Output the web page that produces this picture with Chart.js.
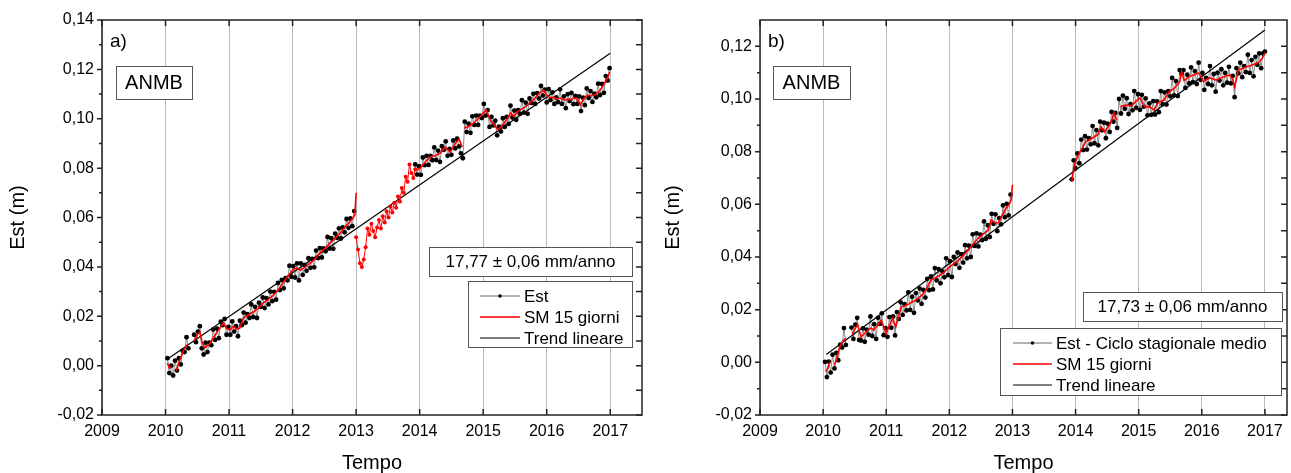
<!DOCTYPE html>
<html>
<head>
<meta charset="utf-8">
<script src="https://cdn.jsdelivr.net/npm/chart.js@4.4.1/dist/chart.umd.min.js"></script>
<style>
  html, body { margin: 0; padding: 0; background: #fff; overflow: hidden; }
  #wrap { position: relative; width: 1291px; height: 473px; overflow: hidden; }
  canvas { position: absolute; top: 0; }
</style>
</head>
<body>
<div id="wrap">
  <canvas id="chartA" width="660" height="473" style="left:0"></canvas>
  <canvas id="chartB" width="636" height="473" style="left:655px"></canvas>
</div>
<script>
// tick labels
const yearTicks = [2009, 2010, 2011, 2012, 2013, 2014, 2015, 2016, 2017];
const aYTicks = [-0.02, 0, 0.02, 0.04, 0.06, 0.08, 0.10, 0.12, 0.14];
const bYTicks = [-0.02, 0, 0.02, 0.04, 0.06, 0.08, 0.10, 0.12];

// daily "Est" positions, sampled every 0.03 yr, one list per segment
const estStep = 0.03;
const aEstStart = [2010.03, 2010.45, 2013.93];
const aEst1 = [0.0030, -0.0030, 0.0000, -0.0040, 0.0020, -0.0020, 0.0030, 0.0005, 0.0060, 0.0055, 0.0115, 0.0070];
const aEst2 = [
  0.0125, 0.0095, 0.0138, 0.0160, 0.0070, 0.0045, 0.0093, 0.0055, 0.0093, 0.0083,
  0.0146, 0.0104, 0.0150, 0.0111, 0.0178, 0.0164, 0.0189, 0.0125, 0.0157, 0.0125,
  0.0179, 0.0138, 0.0160, 0.0119, 0.0182, 0.0164, 0.0215, 0.0174, 0.0209, 0.0193,
  0.0248, 0.0197, 0.0238, 0.0193, 0.0255, 0.0238, 0.0276, 0.0233, 0.0273, 0.0248,
  0.0300, 0.0261, 0.0299, 0.0267, 0.0335, 0.0306, 0.0347, 0.0313, 0.0354, 0.0345,
  0.0405, 0.0360, 0.0403, 0.0357, 0.0414, 0.0345, 0.0414, 0.0368, 0.0408, 0.0384,
  0.0435, 0.0396, 0.0432, 0.0398, 0.0466, 0.0436, 0.0476, 0.0438, 0.0475, 0.0463,
  0.0521, 0.0474, 0.0516, 0.0473, 0.0535, 0.0518, 0.0556, 0.0515, 0.0560, 0.0540,
  0.0594, 0.0558, 0.0596, 0.0565, 0.0626];
const aEst3 = [
  0.0815, 0.0774, 0.0808, 0.0773, 0.0843, 0.0812, 0.0850, 0.0813, 0.0850, 0.0832,
  0.0884, 0.0833, 0.0871, 0.0825, 0.0889, 0.0874, 0.0908, 0.0850, 0.0878, 0.0854,
  0.0912, 0.0880, 0.0919, 0.0888, 0.0860, 0.0840, 0.0988, 0.0946, 0.0980, 0.0943,
  0.1010, 0.0975, 0.1013, 0.0975, 0.1013, 0.1003, 0.1060, 0.1013, 0.1035, 0.0967,
  0.1008, 0.0973, 0.0992, 0.0933, 0.0968, 0.0948, 0.1002, 0.0967, 0.1007, 0.0979,
  0.1053, 0.1005, 0.1033, 0.0996, 0.1035, 0.1020, 0.1075, 0.1025, 0.1065, 0.1020,
  0.1082, 0.1064, 0.1101, 0.1060, 0.1104, 0.1082, 0.1133, 0.1094, 0.1118, 0.1066,
  0.1120, 0.1076, 0.1107, 0.1060, 0.1086, 0.1067, 0.1119, 0.1060, 0.1091, 0.1043,
  0.1100, 0.1072, 0.1105, 0.1059, 0.1093, 0.1060, 0.1091, 0.1031, 0.1085, 0.1055,
  0.1123, 0.1084, 0.1112, 0.1068, 0.1102, 0.1087, 0.1142, 0.1096, 0.1141, 0.1105,
  0.1173, 0.1155, 0.1205];

// 2013 stretch of panel a, only red points
const aRawStart = 2013.00;
const aRaw = [
  0.0520, 0.0470, 0.0415, 0.0400, 0.0430, 0.0480, 0.0555, 0.0530, 0.0575, 0.0545,
  0.0520, 0.0560, 0.0590, 0.0555, 0.0605, 0.0580, 0.0625, 0.0600, 0.0645, 0.0620,
  0.0660, 0.0640, 0.0685, 0.0665, 0.0720, 0.0700, 0.0765, 0.0745, 0.0815, 0.0780,
  0.0760, 0.0795];

// 15-day moving average (null = gap)
const aSmT = [2010.03, 2010.06, 2010.10, 2010.14, 2010.17, 2010.22, 2010.28, 2010.34, 2010.40, 2010.45,
  2010.50, 2010.54, 2010.58, 2010.62, 2010.70, 2010.78, 2010.85, 2010.91, 2010.96,
  2011.02, 2011.07, 2011.12, 2011.17, 2011.23, 2011.30, 2011.38, 2011.46, 2011.54, 2011.62, 2011.70,
  2011.77, 2011.83, 2011.92,
  2012.00, 2012.06, 2012.12, 2012.20, 2012.28, 2012.35, 2012.43, 2012.51, 2012.59, 2012.67, 2012.75,
  2012.82, 2012.88, 2012.94, 2012.98,
  2013.00, 2013.50, 2013.93,
  2014.01, 2014.09, 2014.17, 2014.24, 2014.32, 2014.40, 2014.48, 2014.56, 2014.62, 2014.67, 2014.69,
  2014.70, 2014.75, 2014.82, 2014.90, 2014.96,
  2015.00, 2015.05, 2015.11, 2015.17, 2015.24, 2015.32, 2015.38, 2015.43, 2015.48, 2015.55, 2015.63,
  2015.70, 2015.79, 2015.87, 2015.95,
  2016.00, 2016.05, 2016.10, 2016.16, 2016.21, 2016.28, 2016.33, 2016.37, 2016.43, 2016.48, 2016.53,
  2016.58, 2016.64, 2016.70, 2016.74, 2016.80, 2016.84, 2016.88, 2016.92, 2016.96, 2016.99];
const aSm = [0.0010, -0.0010, -0.0005, null, -0.0020, 0.0020, 0.0060, 0.0085, null, 0.0100,
  0.0125, 0.0135, 0.0090, 0.0072, 0.0090, 0.0124, 0.0150, 0.0173, 0.0150,
  0.0145, 0.0160, 0.0148, 0.0152, 0.0195, 0.0205, 0.0217, 0.0232, 0.0254, 0.0268, 0.0286,
  0.0305, 0.0327, 0.0360,
  0.0387, 0.0395, 0.0387, 0.0400, 0.0416, 0.0430, 0.0456, 0.0475, 0.0497, 0.0515, 0.0537,
  0.0560, 0.0578, 0.0595, 0.0610,
  0.0700, null, 0.0790,
  0.0800, 0.0825, 0.0845, 0.0850, 0.0860, 0.0885, 0.0865, 0.0900, 0.0918, 0.0885, null,
  0.0962, 0.0967, 0.0975, 0.0995, 0.1010,
  0.1023, 0.1035, 0.0995, 0.0975, 0.0955, 0.0980, 0.1000, 0.1023, 0.1010, 0.1030, 0.1043,
  0.1055, 0.1076, 0.1100, 0.1116,
  0.1096, 0.1085, 0.1088, 0.1080, 0.1084, 0.1075, 0.1080, 0.1076, 0.1085, 0.1080, 0.1056,
  0.1080, 0.1096, 0.1092, 0.1095, 0.1105, 0.1116, 0.1130, 0.1149, 0.1165, 0.1190];

const aTrendT = [2010.05, 2017.00];
const aTrend = [0.0030, 0.1265];

// panel b: Est minus mean seasonal cycle
const bEstStart = [2010.03, 2010.45, 2013.94];
const bEst1 = [0.0002, -0.0056, 0.0003, -0.0039, 0.0029, -0.0023, 0.0036, 0.0008, 0.0067, 0.0056, 0.0130, 0.0066];
const bEst2 = [
  0.0132, 0.0089, 0.0143, 0.0169, 0.0085, 0.0083, 0.0129, 0.0078, 0.0124, 0.0105,
  0.0174, 0.0100, 0.0145, 0.0089, 0.0169, 0.0146, 0.0186, 0.0103, 0.0130, 0.0097,
  0.0172, 0.0131, 0.0174, 0.0102, 0.0191, 0.0165, 0.0228, 0.0180, 0.0221, 0.0197,
  0.0266, 0.0199, 0.0249, 0.0188, 0.0263, 0.0235, 0.0280, 0.0222, 0.0275, 0.0246,
  0.0317, 0.0274, 0.0326, 0.0277, 0.0358, 0.0311, 0.0354, 0.0300, 0.0345, 0.0323,
  0.0395, 0.0331, 0.0384, 0.0324, 0.0400, 0.0373, 0.0417, 0.0359, 0.0411, 0.0379,
  0.0445, 0.0395, 0.0443, 0.0400, 0.0486, 0.0442, 0.0490, 0.0440, 0.0485, 0.0464,
  0.0535, 0.0469, 0.0521, 0.0476, 0.0564, 0.0526, 0.0562, 0.0498, 0.0548, 0.0524,
  0.0596, 0.0551, 0.0602, 0.0558, 0.0637];
const bEst3 = [
  0.0695, 0.0767, 0.0737, 0.0793, 0.0756, 0.0846, 0.0806, 0.0859, 0.0808, 0.0851,
  0.0828, 0.0897, 0.0832, 0.0882, 0.0824, 0.0914, 0.0881, 0.0910, 0.0851, 0.0906,
  0.0875, 0.0951, 0.0914, 0.0947, 0.0890, 0.1000, 0.0945, 0.1013, 0.0963, 0.1003,
  0.0943, 0.0980, 0.0957, 0.1030, 0.0966, 0.1018, 0.0959, 0.1016, 0.0971, 0.1002,
  0.0938, 0.0983, 0.0940, 0.0992, 0.0941, 0.0991, 0.0950, 0.1030, 0.0980, 0.1025,
  0.0979, 0.1030, 0.1010, 0.1080, 0.1014, 0.1068, 0.1011, 0.1110, 0.1096, 0.1110,
  0.1042, 0.1092, 0.1059, 0.1120, 0.1064, 0.1106, 0.1057, 0.1138, 0.1073, 0.1099,
  0.1035, 0.1080, 0.1057, 0.1125, 0.1052, 0.1095, 0.1028, 0.1100, 0.1070, 0.1113,
  0.1052, 0.1099, 0.1062, 0.1122, 0.1059, 0.1088, 0.1007, 0.1117, 0.1097, 0.1138,
  0.1083, 0.1125, 0.1102, 0.1168, 0.1099, 0.1148, 0.1086, 0.1160, 0.1130, 0.1173,
  0.1117, 0.1173, 0.1180];

const bSmT = [2010.04, 2010.07, 2010.10, 2010.12, 2010.15, 2010.18, 2010.21, 2010.25, 2010.29, 2010.33,
  2010.36, 2010.41, 2010.46, 2010.51, 2010.55, 2010.60, 2010.64, 2010.68, 2010.72, 2010.76,
  2010.80, 2010.86, 2010.92, 2010.96,
  2011.00, 2011.05, 2011.10, 2011.15, 2011.19, 2011.24, 2011.30, 2011.36, 2011.41, 2011.49,
  2011.57, 2011.63, 2011.68, 2011.71, 2011.76, 2011.81, 2011.86, 2011.93,
  2012.00, 2012.08, 2012.15, 2012.22, 2012.30, 2012.38, 2012.46, 2012.54, 2012.62, 2012.66,
  2012.72, 2012.78, 2012.84, 2012.90, 2012.95, 2012.98,
  2013.00, 2013.50, 2013.94, 2013.98,
  2014.02, 2014.06, 2014.11, 2014.16, 2014.22, 2014.27, 2014.31, 2014.35, 2014.40, 2014.46,
  2014.50, 2014.54, 2014.58, 2014.61, 2014.65, 2014.68, 2014.71, 2014.76, 2014.82, 2014.88, 2014.95,
  2015.02, 2015.06, 2015.10, 2015.18, 2015.24, 2015.28, 2015.32, 2015.40, 2015.48, 2015.57,
  2015.65, 2015.68, 2015.72, 2015.80, 2015.87, 2015.95,
  2016.03, 2016.08, 2016.13, 2016.23, 2016.34, 2016.44, 2016.49, 2016.52, 2016.58, 2016.64,
  2016.70, 2016.76, 2016.81, 2016.86, 2016.91, 2016.96, 2017.00];
const bSm = [-0.0035, -0.0025, -0.0002, 0.0000, null, -0.0010, 0.0009, 0.0050, 0.0073, 0.0085,
  0.0092, null, 0.0105, 0.0130, 0.0142, 0.0096, 0.0105, 0.0115, 0.0125, 0.0130,
  0.0122, 0.0140, 0.0160, 0.0135,
  0.0111, 0.0140, 0.0168, 0.0134, 0.0170, 0.0210, 0.0215, 0.0222, 0.0229, 0.0240,
  0.0256, 0.0275, 0.0300, 0.0313, 0.0318, 0.0325, 0.0332, 0.0345,
  0.0362, 0.0376, 0.0389, 0.0405, 0.0427, 0.0450, 0.0472, 0.0488, 0.0503, 0.0540,
  0.0530, 0.0530, 0.0560, 0.0586, 0.0600, 0.0617,
  0.0674, null, 0.0685, 0.0750,
  0.0775, 0.0795, 0.0815, 0.0837, 0.0845, 0.0852, 0.0860, 0.0863, 0.0894, 0.0875,
  0.0890, 0.0901, 0.0925, 0.0947, 0.0920, null, 0.0970, 0.0975, 0.0977, 0.0972, 0.0990,
  0.1004, 0.0985, 0.0970, 0.0970, 0.0958, 0.0975, 0.0989, 0.0995, 0.1027, 0.1042,
  0.1065, 0.1103, 0.1070, 0.1085, 0.1091, 0.1099,
  0.1065, 0.1075, 0.1080, 0.1072, 0.1084, 0.1091, 0.1075, 0.1046, 0.1110, 0.1115,
  0.1122, 0.1125, 0.1130, 0.1135, 0.1141, 0.1155, 0.1175];

const bTrendT = [2010.05, 2017.00];
const bTrend = [0.0030, 0.1262];

const FONT = '"Liberation Sans", Arial, sans-serif';

function regular(t0, vals) {
  return vals.map((v, i) => ({ x: Math.round((t0 + i * estStep) * 1000) / 1000, y: v }));
}
function joinSegs(segs) {
  const out = [];
  segs.forEach((s, k) => {
    if (k) out.push({ x: (out[out.length - 1].x + s[0].x) / 2, y: null });
    out.push(...s);
  });
  return out;
}
function pairs(ts, vs) {
  return ts.map((t, i) => ({ x: t, y: vs[i] }));
}
function fmt(v) {
  if (Math.abs(v) < 1e-9) v = 0;
  return v.toFixed(2).replace('.', ',');
}

function line(ctx, x0, y0, x1, y1) {
  ctx.moveTo(x0, y0);
  ctx.lineTo(x1, y1);
}

function textBox(ctx, b, text, size) {
  ctx.fillStyle = '#fff';
  ctx.fillRect(b[0], b[1], b[2], b[3]);
  ctx.strokeStyle = '#555';
  ctx.lineWidth = 1;
  ctx.strokeRect(b[0] + 0.5, b[1] + 0.5, b[2], b[3]);
  ctx.fillStyle = '#000';
  ctx.font = size + 'px ' + FONT;
  ctx.textAlign = 'center';
  ctx.textBaseline = 'middle';
  ctx.fillText(text, b[0] + b[2] / 2, b[1] + b[3] / 2 + 1);
}

const framePlugin = {
  id: 'frame',
  afterDatasetsDraw(chart, args, o) {
    const { ctx, chartArea: a, scales: { x, y } } = chart;
    ctx.save();
    ctx.strokeStyle = '#222';
    ctx.lineWidth = 1.5;
    ctx.strokeRect(a.left, a.top, a.right - a.left, a.bottom - a.top);

    ctx.beginPath();
    x.ticks.forEach(t => {
      const px = x.getPixelForValue(t.value);
      line(ctx, px, a.bottom, px, a.bottom - 6);
      line(ctx, px, a.top, px, a.top + 6);
    });
    const major = y.ticks.map(t => t.value);
    const minor = [];
    for (let i = 0; i < major.length; i++) {
      const m = major[i] + 0.01;
      if (m < y.max - 1e-9) minor.push(m);
    }
    major.forEach(v => {
      const py = y.getPixelForValue(v);
      line(ctx, a.left, py, a.left - 5, py);
      line(ctx, a.right, py, a.right - 6, py);
    });
    minor.forEach(v => {
      const py = y.getPixelForValue(v);
      line(ctx, a.left, py, a.left - 3, py);
      line(ctx, a.right, py, a.right - 6, py);
    });
    ctx.stroke();

    // panel letter
    ctx.fillStyle = '#000';
    ctx.font = '19px ' + FONT;
    ctx.textAlign = 'left';
    ctx.textBaseline = 'middle';
    ctx.fillText(o.letter, o.letterPos[0], o.letterPos[1]);

    textBox(ctx, o.stationBox, 'ANMB', 20);
    textBox(ctx, o.rateBox, o.rate, 17);

    // legend
    const lb = o.legendBox;
    ctx.fillStyle = '#fff';
    ctx.fillRect(lb[0], lb[1], lb[2], lb[3]);
    ctx.strokeStyle = '#555';
    ctx.lineWidth = 1;
    ctx.strokeRect(lb[0] + 0.5, lb[1] + 0.5, lb[2], lb[3]);
    const [s0, s1, tx] = o.legendX;
    const ys = o.legendY;
    ctx.lineWidth = 1;
    ctx.strokeStyle = '#666';
    ctx.beginPath(); line(ctx, s0, ys[0], s1, ys[0]); ctx.stroke();
    ctx.fillStyle = '#000';
    ctx.beginPath(); ctx.arc((s0 + s1) / 2, ys[0], 1.8, 0, Math.PI * 2); ctx.fill();
    ctx.strokeStyle = '#ff0000'; ctx.lineWidth = 1.4;
    ctx.beginPath(); line(ctx, s0, ys[1], s1, ys[1]); ctx.stroke();
    ctx.strokeStyle = '#000'; ctx.lineWidth = 1.2;
    ctx.beginPath(); line(ctx, s0, ys[2], s1, ys[2]); ctx.stroke();
    ctx.fillStyle = '#000';
    ctx.font = '17px ' + FONT;
    ctx.textAlign = 'left';
    ctx.textBaseline = 'middle';
    o.legendText.forEach((t, i) => ctx.fillText(t, tx, ys[i] + 1));
    ctx.restore();
  }
};

function makeChart(id, p) {
  const datasets = [
    { data: pairs(p.smT, p.sm), borderColor: '#ff0000', borderWidth: 1.6, pointRadius: 0, spanGaps: false }
  ];
  if (p.raw) {
    datasets.push({ data: p.raw, borderColor: '#ff0000', borderWidth: 1, pointRadius: 2,
      pointBackgroundColor: '#ff0000', pointBorderWidth: 0 });
  }
  datasets.push({ data: pairs(p.trendT, p.trend), borderColor: '#000', borderWidth: 1.2, pointRadius: 0 });
  datasets.push({ data: p.est, borderColor: '#444', borderWidth: 0.6, pointRadius: 2.4,
    pointBackgroundColor: '#000', pointBorderWidth: 0, spanGaps: false });

  return new Chart(document.getElementById(id), {
    type: 'line',
    data: { datasets },
    options: {
      responsive: false,
      animation: false,
      devicePixelRatio: 1,
      layout: { padding: { top: 20, right: p.padRight, left: 0, bottom: 0 } },
      plugins: { legend: { display: false }, tooltip: { enabled: false }, frame: p.frame },
      elements: { line: { tension: 0 } },
      scales: {
        x: {
          type: 'linear', min: 2009, max: p.xMax,
          afterBuildTicks: s => { s.ticks = yearTicks.map(v => ({ value: v })); },
          afterFit: s => { s.height = 58; },
          grid: { color: '#b9b9b9', lineWidth: 1, drawTicks: false },
          border: { display: false },
          ticks: { color: '#000', font: { family: FONT, size: 16 }, padding: 7, maxRotation: 0,
            autoSkip: false, callback: v => String(v) },
          title: { display: true, text: 'Tempo', color: '#000', font: { family: FONT, size: 20 },
            padding: { top: 0, bottom: -2 } }
        },
        y: {
          min: -0.02, max: p.yMax,
          afterBuildTicks: s => { s.ticks = p.yTicks.map(v => ({ value: v })); },
          afterFit: s => { s.width = p.yWidth; },
          grid: { display: false, drawTicks: false },
          border: { display: false },
          ticks: { color: '#000', font: { family: FONT, size: 16 }, padding: 8, callback: v => fmt(v) },
          title: { display: true, text: 'Est (m)', color: '#000', font: { family: FONT, size: 20 },
            padding: { top: 6, bottom: 0 } }
        }
      }
    },
    plugins: [framePlugin]
  });
}

makeChart('chartA', {
  smT: aSmT, sm: aSm,
  raw: regular(aRawStart, aRaw),
  trendT: aTrendT, trend: aTrend,
  est: joinSegs([regular(aEstStart[0], aEst1), regular(aEstStart[1], aEst2), regular(aEstStart[2], aEst3)]),
  xMax: 2017.5, yMax: 0.14, yTicks: aYTicks, yWidth: 102, padRight: 18,
  frame: {
    letter: 'a)', letterPos: [110, 42],
    stationBox: [116, 66, 76, 33],
    rateBox: [429, 247, 203, 29], rate: '17,77 \u00b1 0,06 mm/anno',
    legendBox: [468, 281, 164, 66], legendX: [480, 520, 524], legendY: [296, 317, 338],
    legendText: ['Est', 'SM 15 giorni', 'Trend lineare']
  }
});

makeChart('chartB', {
  smT: bSmT, sm: bSm,
  raw: null,
  trendT: bTrendT, trend: bTrend,
  est: joinSegs([regular(bEstStart[0], bEst1), regular(bEstStart[1], bEst2), regular(bEstStart[2], bEst3)]),
  xMax: 2017.35, yMax: 0.13, yTicks: bYTicks, yWidth: 105, padRight: 1,
  frame: {
    letter: 'b)', letterPos: [113, 42],
    stationBox: [118, 66, 77, 33],
    rateBox: [428, 292, 199, 29], rate: '17,73 \u00b1 0,06 mm/anno',
    legendBox: [345, 328, 281, 67], legendX: [358, 397, 401], legendY: [343, 364, 385],
    legendText: ['Est - Ciclo stagionale medio', 'SM 15 giorni', 'Trend lineare']
  }
});
</script>
</body>
</html>
